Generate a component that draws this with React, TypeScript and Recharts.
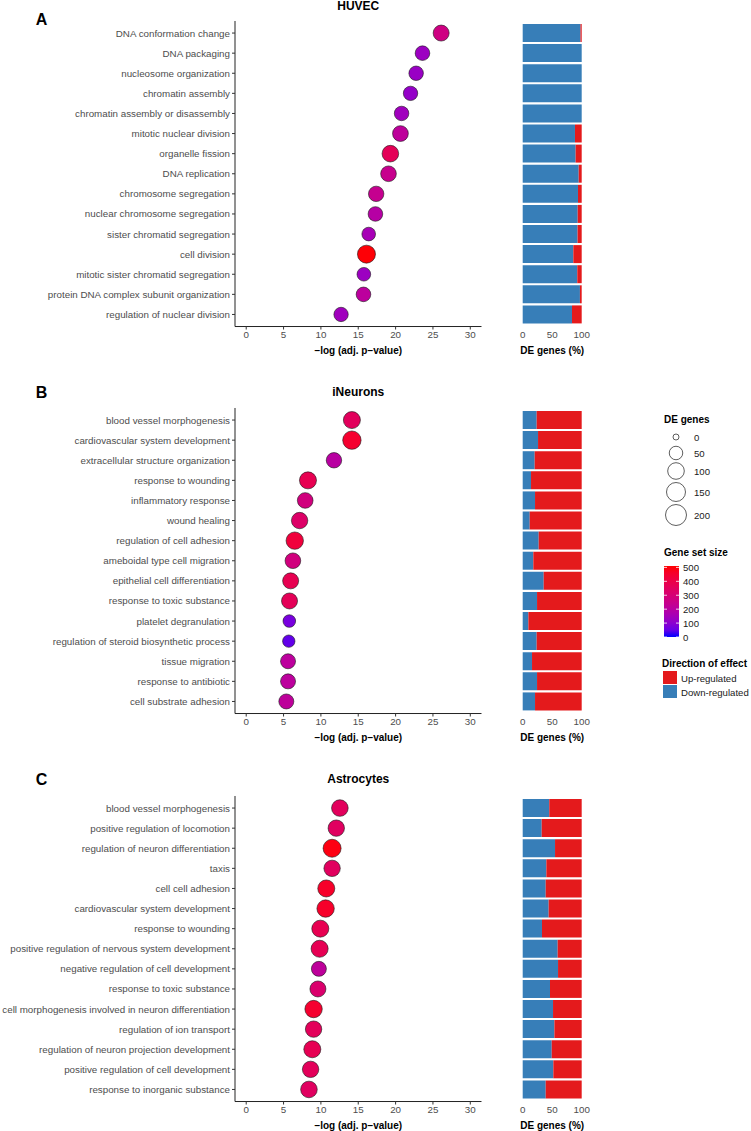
import React from 'react';
import { ScatterChart, Scatter, BarChart, Bar, XAxis, YAxis } from 'recharts';

// ---- data ----
const huvecTerms = [
  'DNA conformation change', 'DNA packaging', 'nucleosome organization', 'chromatin assembly',
  'chromatin assembly or disassembly', 'mitotic nuclear division', 'organelle fission', 'DNA replication',
  'chromosome segregation', 'nuclear chromosome segregation', 'sister chromatid segregation', 'cell division',
  'mitotic sister chromatid segregation', 'protein DNA complex subunit organization', 'regulation of nuclear division',
];
const huvecLogP = [26.1, 23.6, 22.75, 22.0, 20.8, 20.65, 19.3, 19.05, 17.4, 17.3, 16.4, 16.1, 15.75, 15.7, 12.7];
const huvecDE = [89, 66, 64, 62, 64, 85, 100, 83, 79, 66, 52, 128, 52, 66, 62];
const huvecSetSize = [270, 130, 125, 115, 140, 215, 365, 245, 240, 195, 155, 505, 130, 210, 140];
const huvecDown = [98, 100, 100, 100, 100, 88.6, 89.7, 94.9, 93.7, 93.2, 93, 85.8, 92.5, 97, 83.6];

const neuronTerms = [
  'blood vessel morphogenesis', 'cardiovascular system development', 'extracellular structure organization',
  'response to wounding', 'inflammatory response', 'wound healing', 'regulation of cell adhesion',
  'ameboidal type cell migration', 'epithelial cell differentiation', 'response to toxic substance',
  'platelet degranulation', 'regulation of steroid biosynthetic process', 'tissue migration',
  'response to antibiotic', 'cell substrate adhesion',
];
const neuronLogP = [14.15, 14.15, 11.75, 8.27, 7.9, 7.15, 6.5, 6.25, 5.95, 5.8, 5.77, 5.7, 5.6, 5.6, 5.37];
const neuronDE = [108, 136, 79, 108, 83, 96, 115, 83, 89, 89, 39, 36, 72, 72, 72];
const neuronSetSize = [355, 450, 200, 380, 280, 330, 425, 280, 380, 365, 70, 45, 210, 210, 215];
const neuronDown = [23.7, 26, 20.3, 14.1, 20.9, 11.9, 27.1, 18, 35.6, 24.3, 9.6, 23.7, 15.8, 24.3, 20.9];

const astroTerms = [
  'blood vessel morphogenesis', 'positive regulation of locomotion', 'regulation of neuron differentiation',
  'taxis', 'cell cell adhesion', 'cardiovascular system development', 'response to wounding',
  'positive regulation of nervous system development', 'negative regulation of cell development',
  'response to toxic substance', 'cell morphogenesis involved in neuron differentiation',
  'regulation of ion transport', 'regulation of neuron projection development',
  'positive regulation of cell development', 'response to inorganic substance',
];
const astroLogP = [12.54, 12.06, 11.5, 11.5, 10.72, 10.63, 9.92, 9.83, 9.73, 9.6, 9.02, 9.02, 8.85, 8.62, 8.4];
const astroDE = [100, 96, 128, 96, 108, 115, 108, 108, 72, 89, 115, 96, 108, 96, 100];
const astroSetSize = [355, 345, 495, 350, 460, 460, 380, 375, 215, 320, 450, 360, 375, 360, 345];
const astroDown = [45, 32.2, 54.8, 40.1, 39, 44, 32.7, 59.3, 59.9, 46.3, 51.4, 53.7, 49.2, 51.9, 39];

const xTicks = [0, 5, 10, 15, 20, 25, 30];
const pctTicks = [0, 50, 100];
const sizeBreaks = [0, 50, 100, 150, 200];
const colourBreaks = [0, 100, 200, 300, 400, 500];

// ---- scales ----
const COL_MIN = 0;
const COL_MAX = 510;
const UP = '#E41A1C';
const DOWN = '#377EB8';

const toLin = (c: number) => {
  c /= 255;
  return c <= 0.04045 ? c / 12.92 : Math.pow((c + 0.055) / 1.055, 2.4);
};
const fromLin = (c: number) => {
  const v = c <= 0.0031308 ? 12.92 * c : 1.055 * Math.pow(c, 1 / 2.4) - 0.055;
  return Math.round(Math.max(0, Math.min(1, v)) * 255);
};
function rgb2lab(r: number, g: number, b: number) {
  const R = toLin(r), G = toLin(g), B = toLin(b);
  const X = (0.4124 * R + 0.3576 * G + 0.1805 * B) / 0.95047;
  const Y = 0.2126 * R + 0.7152 * G + 0.0722 * B;
  const Z = (0.0193 * R + 0.1192 * G + 0.9505 * B) / 1.08883;
  const f = (t: number) => (t > 0.008856 ? Math.cbrt(t) : 7.787 * t + 16 / 116);
  return [116 * f(Y) - 16, 500 * (f(X) - f(Y)), 200 * (f(Y) - f(Z))];
}
function lab2hex(L: number, a: number, bb: number) {
  const fy = (L + 16) / 116, fx = fy + a / 500, fz = fy - bb / 200;
  const inv = (t: number) => (t * t * t > 0.008856 ? t * t * t : (t - 16 / 116) / 7.787);
  const X = inv(fx) * 0.95047, Y = inv(fy), Z = inv(fz) * 1.08883;
  const r = fromLin(3.2406 * X - 1.5372 * Y - 0.4986 * Z);
  const g = fromLin(-0.9689 * X + 1.8758 * Y + 0.0415 * Z);
  const b = fromLin(0.0557 * X - 0.204 * Y + 1.057 * Z);
  return '#' + [r, g, b].map((v) => v.toString(16).padStart(2, '0')).join('');
}
const LOW = rgb2lab(0, 0, 255);
const HIGH = rgb2lab(255, 0, 0);
function geneColour(v: number) {
  const t = Math.max(0, Math.min(1, (v - COL_MIN) / (COL_MAX - COL_MIN)));
  return lab2hex(LOW[0] + (HIGH[0] - LOW[0]) * t, LOW[1] + (HIGH[1] - LOW[1]) * t, LOW[2] + (HIGH[2] - LOW[2]) * t);
}
const rad = (n: number) => 3 + 7.5 * Math.sqrt(n / 200);

// ---- layout ----
const FONT = '"Liberation Sans", Arial, Helvetica, sans-serif';
const BAND = 20.1;
const PLOT_H = 15.2 * BAND;
const AXIS_L = 235;
const AXIS_R = 481.5;
const BAR_L = 522.7;
const BAR_R = 581.7;
const TXT = '#4d4d4d';
const AX_H = 36;

interface PanelProps {
  top: number;
  title: string;
  letter: string;
  titleY: number;
  letterY: number;
  terms: string[];
  logp: number[];
  de: number[];
  gsize: number[];
  down: number[];
}

function Dot(p: any) {
  const d = p.payload;
  return <circle cx={p.cx} cy={p.cy} r={rad(d.de)} fill={geneColour(d.gs)} stroke="#1a1a1a" strokeWidth={0.6} />;
}

function Panel({ top, title, letter, titleY, letterY, terms, logp, de, gsize, down }: PanelProps) {
  const pts = terms.map((t, i) => ({ x: logp[i], y: i, de: de[i], gs: gsize[i] }));
  const rows = terms.map((t, i) => ({ term: t, down: down[i], up: 100 - down[i] }));
  const idx = terms.map((_, i) => i);
  const padTop = 10;
  const barTop = top + 0.1 * BAND;
  const termTick = (p: any) => (
    <text x={p.x} y={p.y} textAnchor="end" dominantBaseline="central" fontSize={9.8} fill={TXT}>
      {terms[p.payload.value]}
    </text>
  );
  return (
    <>
      <div style={{ position: 'absolute', left: 0, top: top - padTop }}>
        <ScatterChart width={500} height={padTop + PLOT_H + AX_H} margin={{ top: padTop, right: 500 - AXIS_R, left: 0, bottom: 0 }}>
          <XAxis
            type="number"
            dataKey="x"
            domain={[-1.5, 31.5]}
            ticks={xTicks}
            allowDataOverflow
            height={AX_H}
            stroke="#222"
            tickSize={3}
            tickMargin={2}
            tick={{ fill: TXT, fontSize: 9.8 }}
            tickLine={{ stroke: '#333' }}
            label={{ value: '\u2212log (adj. p\u2212value)', position: 'insideBottom', offset: AX_H - 27, fill: '#000', fontSize: 10, fontWeight: 'bold' }}
          />
          <YAxis
            type="number"
            dataKey="y"
            domain={[-0.6, 14.6]}
            reversed
            allowDataOverflow
            ticks={idx}
            interval={0}
            width={AXIS_L}
            stroke="#222"
            tickSize={3}
            tickMargin={2}
            tick={termTick}
            tickLine={{ stroke: '#333' }}
          />
          <Scatter data={pts} isAnimationActive={false} shape={Dot} />
        </ScatterChart>
      </div>
      <div style={{ position: 'absolute', left: 510, top: barTop }}>
        <BarChart
          width={90}
          height={15 * BAND + 2 + AX_H}
          layout="vertical"
          data={rows}
          barCategoryGap="5%"
          margin={{ top: 0, right: 90 - (BAR_R - 510), left: BAR_L - 510, bottom: 0 }}
        >
          <XAxis
            type="number"
            domain={[0, 100]}
            ticks={pctTicks}
            height={AX_H + 2}
            axisLine={false}
            tickLine={false}
            tickSize={3}
            tickMargin={4}
            tick={{ fill: TXT, fontSize: 9.8 }}
            label={{ value: 'DE genes (%)', position: 'insideBottom', offset: AX_H - 27, fill: '#000', fontSize: 10, fontWeight: 'bold' }}
          />
          <YAxis type="category" dataKey="term" hide />
          <Bar dataKey="down" stackId="a" fill={DOWN} isAnimationActive={false} />
          <Bar dataKey="up" stackId="a" fill={UP} isAnimationActive={false} />
        </BarChart>
      </div>
      <svg width={751} height={30} style={{ position: 'absolute', left: 0, top: Math.min(titleY, letterY) - 12, overflow: 'visible' }}>
        <g transform={`translate(0, ${12 - Math.min(titleY, letterY)})`}>
          <text x={(AXIS_L + AXIS_R) / 2} y={titleY} textAnchor="middle" dominantBaseline="central" fontSize={12} fontWeight="bold" fill="#000">
            {title}
          </text>
          <text x={41.5} y={letterY} textAnchor="middle" dominantBaseline="central" fontSize={16} fontWeight="bold" fill="#000">
            {letter}
          </text>
        </g>
      </svg>
    </>
  );
}

function Legends() {
  const cbTop = 566;
  const cbBot = 637;
  const cy = (v: number) => cbBot - ((v - COL_MIN) / (COL_MAX - COL_MIN)) * (cbBot - cbTop);
  const stops = Array.from({ length: 11 }, (_, i) => i / 10);
  const sizeY = [437, 453, 471, 492, 515];
  return (
    <svg width={751} height={1131} style={{ position: 'absolute', left: 0, top: 0, pointerEvents: 'none' }}>
      <defs>
        <linearGradient id="gs" x1="0" y1="1" x2="0" y2="0">
          {stops.map((s) => (
            <stop key={s} offset={s} stopColor={geneColour(COL_MIN + s * (COL_MAX - COL_MIN))} />
          ))}
        </linearGradient>
      </defs>
      <text x={664} y={419} dominantBaseline="central" fontSize={10} fontWeight="bold" fill="#000">DE genes</text>
      {sizeBreaks.map((b, i) => (
        <g key={b}>
          <circle cx={676} cy={sizeY[i]} r={rad(b)} fill="#fff" stroke="#1a1a1a" strokeWidth={0.7} />
          <text x={694} y={sizeY[i]} dominantBaseline="central" fontSize={9.6} fill="#1a1a1a">{b}</text>
        </g>
      ))}
      <text x={664} y={552} dominantBaseline="central" fontSize={10} fontWeight="bold" fill="#000">Gene set size</text>
      <rect x={664} y={cbTop} width={15} height={cbBot - cbTop} fill="url(#gs)" />
      {colourBreaks.map((b) => (
        <g key={b}>
          <line x1={664} x2={667} y1={cy(b)} y2={cy(b)} stroke="#fff" strokeWidth={0.8} />
          <line x1={676} x2={679} y1={cy(b)} y2={cy(b)} stroke="#fff" strokeWidth={0.8} />
          <text x={683} y={cy(b)} dominantBaseline="central" fontSize={9.6} fill="#1a1a1a">{b}</text>
        </g>
      ))}
      <text x={662} y={663} dominantBaseline="central" fontSize={10} fontWeight="bold" fill="#000">Direction of effect</text>
      <rect x={663} y={671} width={14} height={13} fill={UP} />
      <rect x={663} y={685} width={14} height={13} fill={DOWN} />
      <text x={681} y={678} dominantBaseline="central" fontSize={9.6} fill="#1a1a1a">Up-regulated</text>
      <text x={681} y={692} dominantBaseline="central" fontSize={9.6} fill="#1a1a1a">Down-regulated</text>
    </svg>
  );
}

export default function App() {
  return (
    <div style={{ position: 'absolute', left: 0, top: 0, width: 751, height: 1131, background: '#fff', fontFamily: FONT, overflow: 'hidden' }}>
      <Panel top={21} title="HUVEC" letter="A" titleY={6} letterY={19} terms={huvecTerms} logp={huvecLogP} de={huvecDE} gsize={huvecSetSize} down={huvecDown} />
      <Panel top={408} title="iNeurons" letter="B" titleY={392} letterY={392} terms={neuronTerms} logp={neuronLogP} de={neuronDE} gsize={neuronSetSize} down={neuronDown} />
      <Panel top={796} title="Astrocytes" letter="C" titleY={779} letterY={779} terms={astroTerms} logp={astroLogP} de={astroDE} gsize={astroSetSize} down={astroDown} />
      <Legends />
    </div>
  );
}
